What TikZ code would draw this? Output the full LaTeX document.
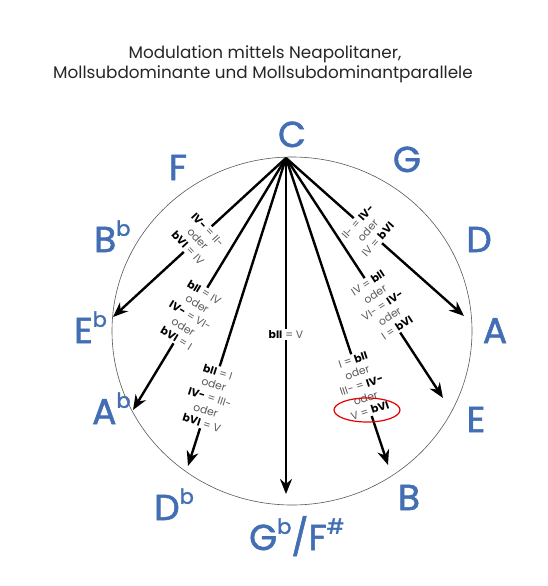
\documentclass[tikz,border=0pt]{standalone}
\usepackage{fontspec}
\setmainfont{Poppins}
\newfontfamily\keyfont[FakeBold=1.6]{Poppins}
\usetikzlibrary{arrows.meta,shapes.geometric}
\definecolor{keyblue}{RGB}{66,110,180}
\definecolor{lblgray}{RGB}{90,90,90}
\newcommand\fl[1]{\raisebox{0.45em}{\fontsize{21}{21}\selectfont #1}}
\newcommand\bk[1]{\textcolor{black}{\bfseries #1}}
\begin{document}
\begin{tikzpicture}[x=1pt,y=-1pt,
  keyname/.style={text=keyblue, font=\keyfont\fontsize{36}{40}\selectfont, inner sep=0pt},
  arr/.style={line width=2.4pt, -{Stealth[length=15pt,width=12pt]}},
  seg/.style={line width=2.4pt},
  lbl/.style={font=\fontsize{10.8}{13.4}\selectfont, text=lblgray, align=center, inner sep=1.5pt},
  ttl/.style={font=\fontsize{16.8}{19}\selectfont, text=black!85, anchor=base, inner sep=0pt},
  ring/.style={draw=black!65, line width=0.6pt}]
\useasboundingbox[fill=white] (0,0) rectangle (548,586);

% title
\node[ttl] (title1) at (265,59) {Modulation mittels Neapolitaner,};
\node[ttl] (title2) at (263,78) {Mollsubdominante und Mollsubdominantparallele};

% circle
\draw[ring] (292,331) ellipse [x radius=180, y radius=174];

% key names
\node[keyname, anchor=base] (kC) at (292,147) {C};
\node[keyname, anchor=base] (kF) at (178,180) {F};
\node[keyname, anchor=base] (kG) at (407,172) {G};
\node[keyname, anchor=base west] (kBb) at (94,252) {B\fl{b}};
\node[keyname, anchor=base] (kD) at (479,252) {D};
\node[keyname, anchor=base west] (kEb) at (74,343) {E\fl{b}};
\node[keyname, anchor=base] (kA) at (495,343) {A};
\node[keyname, anchor=base west] (kAb) at (92,424) {A\fl{b}};
\node[keyname, anchor=base] (kE) at (476,432) {E};
\node[keyname, anchor=base west] (kDb) at (154,520) {D\fl{b}};
\node[keyname, anchor=base west] (kGb) at (249,550) {G\fl{b}/F\fl{\#}};
\node[keyname, anchor=base] (kB) at (409,510) {B};

% apex and arrow tips
\coordinate (apex) at (286,158);
\coordinate (t1) at (113,317);
\coordinate (t2) at (133,410);
\coordinate (t3) at (188,466);
\coordinate (t4) at (286,494);
\coordinate (t5) at (388,465);
\coordinate (t6) at (443,398);
\coordinate (t7) at (464,316);

% labels on the arrows
\path (apex) -- (t1) node[lbl, pos=0.51, rotate=-47.2] (L1)
  {\bk{IV-} = II-\\oder\\\bk{bVI} = IV};
\path (apex) -- (t2) node[lbl, pos=0.625, rotate=-31.3] (L2)
  {\bk{bII} = IV\\oder\\\bk{IV-} = VI-\\oder\\\bk{bVI} = I};
\path (apex) -- (t3) node[lbl, pos=0.777, rotate=-17.6] (L3)
  {\bk{bII} = I\\oder\\\bk{IV-} = III-\\oder\\\bk{bVI} = V};
\path (apex) -- (t4) node[lbl, pos=0.525] (L4)
  {\bk{bII} = V};
\path (apex) -- (t5) node[lbl, pos=0.74, rotate=18.3] (L5)
  {I = \bk{bII}\\oder\\III- = \bk{IV-}\\oder\\V = \bk{bVI}};
\path (apex) -- (t6) node[lbl, pos=0.614, rotate=33.1] (L6)
  {IV = \bk{bII}\\oder\\VI- = \bk{IV-}\\oder\\I = \bk{bVI}};
\path (apex) -- (t7) node[lbl, pos=0.46, rotate=48.2] (L7)
  {II- = \bk{IV-}\\oder\\IV = \bk{bVI}};

% arrows
\foreach \i in {1,...,7} {
  \draw[seg] (apex) -- (L\i);
  \draw[arr] (L\i) -- (t\i);
}

% highlight
\node[ellipse, draw=red!90!black, line width=1.2pt, minimum width=66pt, minimum height=24pt, inner sep=0pt] (hl) at (367,410) {};
\end{tikzpicture}
\end{document}
